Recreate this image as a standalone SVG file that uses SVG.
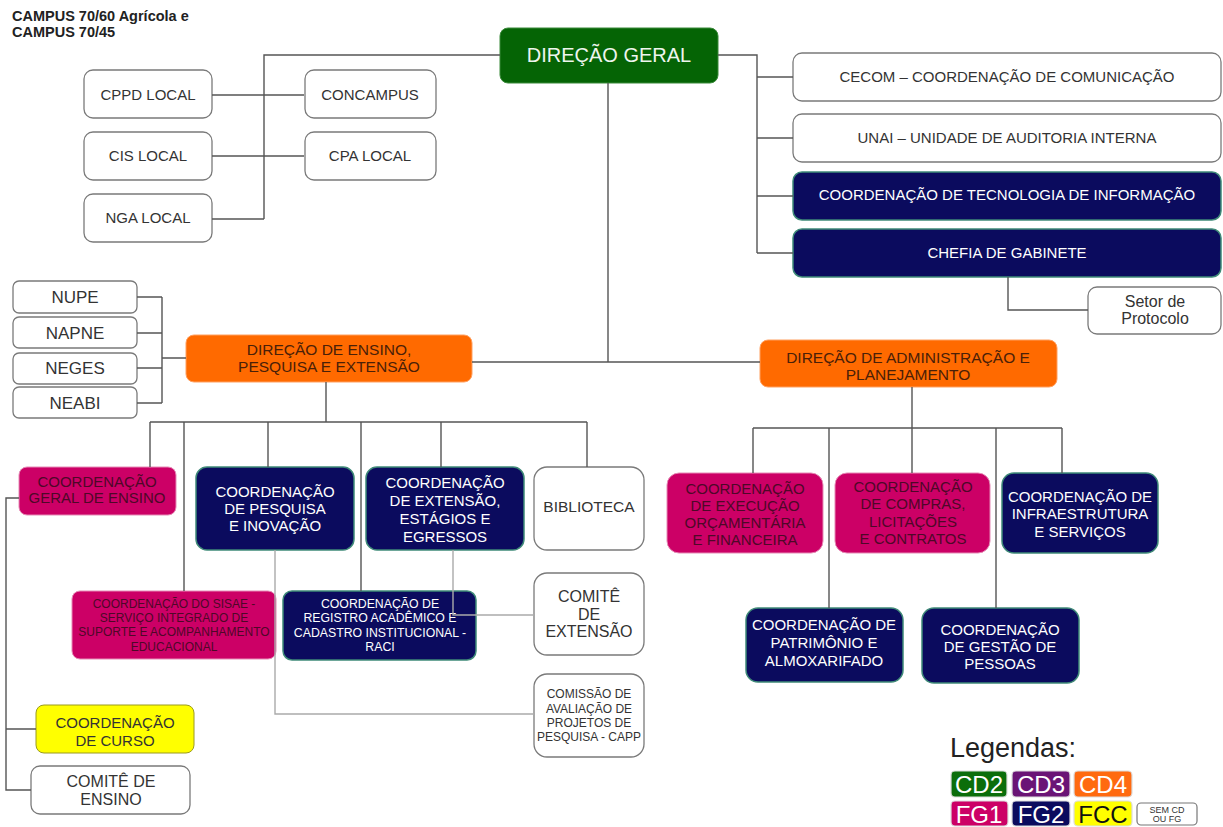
<svg xmlns="http://www.w3.org/2000/svg" width="1223" height="827" viewBox="0 0 1223 827">
<style>
text{font-family:"Liberation Sans",Arial,sans-serif;text-anchor:middle}
.w{fill:#fff;stroke:#7a7a7a;stroke-width:1.3}
.nv{fill:#0b0b5e;stroke:#3f8a78;stroke-width:1.5}
.mg{fill:#cc0066;stroke:#e58ab5;stroke-width:1}
.or{fill:#ff6a00;stroke:#ffa060;stroke-width:1}
.gr{fill:#056405;stroke:#3a8a3a;stroke-width:1}
.ye{fill:#ffff00;stroke:#9a9a20;stroke-width:1}
.tw{fill:#fff;font-size:15px}
.td{fill:#333;font-size:15px}
.tm{fill:#4e0828;font-size:15px}
.to{fill:#4a2008;font-size:15.5px}
.c{fill:none;stroke:#555;stroke-width:1.4}
.cl{fill:none;stroke:#aaa;stroke-width:1.4}
.chip{stroke:#ddd;stroke-width:1.2}
.ct{fill:#fff;font-size:24px}
</style>

<text x="12" y="21" style="text-anchor:start;font-weight:bold;font-size:14.5px;fill:#222">CAMPUS 70/60 Agrícola e</text>
<text x="12" y="37" style="text-anchor:start;font-weight:bold;font-size:14.5px;fill:#222">CAMPUS 70/45</text>

<g id="dg"><rect class="gr" x="500" y="28" width="218" height="55" rx="8"/><text x="609" y="62" style="fill:#eef5ee;font-size:20px">DIREÇÃO GERAL</text></g>

<g id="cppd"><rect class="w" x="84" y="70" width="128" height="48" rx="9"/><text class="td" x="148" y="100">CPPD LOCAL</text></g>
<g id="cis"><rect class="w" x="84" y="132" width="128" height="48" rx="9"/><text class="td" x="148" y="161">CIS LOCAL</text></g>
<g id="nga"><rect class="w" x="84" y="194" width="128" height="48" rx="9"/><text class="td" x="148" y="223">NGA LOCAL</text></g>
<g id="concampus"><rect class="w" x="305" y="70" width="131" height="48" rx="9"/><text class="td" x="370" y="100">CONCAMPUS</text></g>
<g id="cpa"><rect class="w" x="305" y="132" width="131" height="48" rx="9"/><text class="td" x="370" y="161">CPA LOCAL</text></g>

<g id="cecom"><rect class="w" x="793" y="53" width="428" height="48" rx="9"/><text class="td" x="1007" y="82">CECOM – COORDENAÇÃO DE COMUNICAÇÃO</text></g>
<g id="unai"><rect class="w" x="793" y="114" width="428" height="48" rx="9"/><text class="td" x="1007" y="143">UNAI – UNIDADE DE AUDITORIA INTERNA</text></g>
<g id="cti"><rect class="nv" x="793" y="172" width="428" height="48" rx="9"/><text class="tw" x="1007" y="200">COORDENAÇÃO DE TECNOLOGIA DE INFORMAÇÃO</text></g>
<g id="chefia"><rect class="nv" x="793" y="229" width="428" height="48" rx="9"/><text class="tw" x="1007" y="258">CHEFIA DE GABINETE</text></g>
<g id="protocolo"><rect class="w" x="1088" y="287" width="133" height="47" rx="9"/><text class="td" x="1155" y="307" style="font-size:16px">Setor de</text><text class="td" x="1155" y="324" style="font-size:16px">Protocolo</text></g>

<g id="nupe"><rect class="w" x="13" y="281" width="124" height="32" rx="6"/><text class="td" x="75" y="303" style="font-size:17px">NUPE</text></g>
<g id="napne"><rect class="w" x="13" y="317" width="124" height="31" rx="6"/><text class="td" x="75" y="339" style="font-size:17px">NAPNE</text></g>
<g id="neges"><rect class="w" x="13" y="353" width="124" height="31" rx="6"/><text class="td" x="75" y="374" style="font-size:17px">NEGES</text></g>
<g id="neabi"><rect class="w" x="13" y="387" width="124" height="31" rx="6"/><text class="td" x="75" y="409" style="font-size:17px">NEABI</text></g>

<g id="depe"><rect class="or" x="186" y="335" width="286" height="47" rx="8"/><text class="to" x="329" y="355">DIREÇÃO DE ENSINO,</text><text class="to" x="329" y="372">PESQUISA E EXTENSÃO</text></g>
<g id="dap"><rect class="or" x="760" y="340" width="297" height="47" rx="8"/><text class="to" x="908" y="363">DIREÇÃO DE ADMINISTRAÇÃO E</text><text class="to" x="908" y="380">PLANEJAMENTO</text></g>

<g id="cge"><rect class="mg" x="19" y="467" width="157" height="48" rx="8"/><text class="tm" x="97" y="487">COORDENAÇÃO</text><text class="tm" x="97" y="503">GERAL DE ENSINO</text></g>
<g id="cpi"><rect class="nv" x="196" y="467" width="158" height="83" rx="11"/><text class="tw" x="275" y="497">COORDENAÇÃO</text><text class="tw" x="275" y="514">DE PESQUISA</text><text class="tw" x="275" y="531">E INOVAÇÃO</text></g>
<g id="ceee"><rect class="nv" x="366" y="467" width="158" height="83" rx="11"/><text class="tw" x="445" y="488">COORDENAÇÃO</text><text class="tw" x="445" y="506">DE EXTENSÃO,</text><text class="tw" x="445" y="524">ESTÁGIOS E</text><text class="tw" x="445" y="542">EGRESSOS</text></g>
<g id="biblioteca"><rect class="w" x="534" y="467" width="110" height="83" rx="13"/><text class="td" x="589" y="512" style="font-size:15.5px">BIBLIOTECA</text></g>
<g id="sisae"><rect class="mg" x="72" y="591" width="204" height="68" rx="8"/><text class="tm" x="174" y="608" style="font-size:12px">COORDENAÇÃO DO SISAE -</text><text class="tm" x="174" y="622" style="font-size:12px">SERVIÇO INTEGRADO DE</text><text class="tm" x="174" y="636" style="font-size:12px">SUPORTE E ACOMPANHAMENTO</text><text class="tm" x="174" y="651" style="font-size:12px">EDUCACIONAL</text></g>
<g id="raci"><rect class="nv" x="283" y="591" width="193" height="69" rx="9"/><text class="tw" x="380" y="608" style="font-size:12.3px">COORDENAÇÃO DE</text><text class="tw" x="380" y="622" style="font-size:12.3px">REGISTRO ACADÊMICO E</text><text class="tw" x="380" y="637" style="font-size:12.3px">CADASTRO INSTITUCIONAL -</text><text class="tw" x="380" y="651" style="font-size:12.3px">RACI</text></g>
<g id="comite-extensao"><rect class="w" x="534" y="573" width="110" height="82" rx="13"/><text class="td" x="589" y="602" style="font-size:16px">COMITÊ</text><text class="td" x="589" y="620" style="font-size:16px">DE</text><text class="td" x="589" y="637" style="font-size:16px">EXTENSÃO</text></g>
<g id="capp"><rect class="w" x="534" y="674" width="110" height="83" rx="13"/><text class="td" x="589" y="698" style="font-size:12px">COMISSÃO DE</text><text class="td" x="589" y="713" style="font-size:12px">AVALIAÇÃO DE</text><text class="td" x="589" y="727" style="font-size:12px">PROJETOS DE</text><text class="td" x="589" y="741" style="font-size:12px">PESQUISA - CAPP</text></g>
<g id="curso"><rect class="ye" x="36" y="705" width="158" height="48" rx="8"/><text class="td" x="115" y="728">COORDENAÇÃO</text><text class="td" x="115" y="746">DE CURSO</text></g>
<g id="comite-ensino"><rect class="w" x="31" y="766" width="159" height="48" rx="9"/><text class="td" x="111" y="787" style="font-size:16px">COMITÊ DE</text><text class="td" x="111" y="805" style="font-size:16px">ENSINO</text></g>

<g id="ceof"><rect class="mg" x="667" y="473" width="156" height="80" rx="12"/><text class="tm" x="745" y="494">COORDENAÇÃO</text><text class="tm" x="745" y="511">DE EXECUÇÃO</text><text class="tm" x="745" y="528">ORÇAMENTÁRIA</text><text class="tm" x="745" y="545">E FINANCEIRA</text></g>
<g id="cclc"><rect class="mg" x="835" y="473" width="155" height="80" rx="12"/><text class="tm" x="913" y="492">COORDENAÇÃO</text><text class="tm" x="913" y="509">DE COMPRAS,</text><text class="tm" x="913" y="527">LICITAÇÕES</text><text class="tm" x="913" y="544">E CONTRATOS</text></g>
<g id="infra"><rect class="nv" x="1002" y="473" width="156" height="80" rx="12"/><text class="tw" x="1080" y="502">COORDENAÇÃO DE</text><text class="tw" x="1080" y="519">INFRAESTRUTURA</text><text class="tw" x="1080" y="537">E SERVIÇOS</text></g>
<g id="patrimonio"><rect class="nv" x="746" y="608" width="157" height="74" rx="12"/><text class="tw" x="824" y="630">COORDENAÇÃO DE</text><text class="tw" x="824" y="648">PATRIMÔNIO E</text><text class="tw" x="824" y="666">ALMOXARIFADO</text></g>
<g id="cgp"><rect class="nv" x="922" y="608" width="157" height="75" rx="12"/><text class="tw" x="1000" y="635">COORDENAÇÃO</text><text class="tw" x="1000" y="652">DE GESTÃO DE</text><text class="tw" x="1000" y="669">PESSOAS</text></g>

<g id="connectors">
<path class="c" d="M500,55H264V219M212,219H264M212,95H304M212,156H304"/>
<path class="c" d="M718,55H757V253M757,77H793M757,138H793M757,196H793M757,253H793"/>
<path class="c" d="M1008,277V310H1088"/>
<path class="c" d="M608,83V362M472,362H760"/>
<path class="c" d="M137,297H162M137,333H162M137,368H162M137,403H162M162,297V403M162,358H186"/>
<path class="c" d="M326,382V422M150,422H587M150,422V467M184,422V591M268,422V467M361,422V591M441,422V467M587,422V467"/>
<path class="c" d="M19,498H6V790H31M6,729H36"/>
<path class="cl" d="M275,550V714H534M453,550V615H534"/>
<path class="c" d="M912,387V428M753,428H1062M753,428V473M829,428V608M912,428V473M996,428V608M1062,428V473"/>
</g>

<g id="legend">
<text x="950" y="757" style="text-anchor:start;font-size:27px;fill:#222">Legendas:</text>
<rect class="chip" x="951" y="771" width="56" height="26" rx="4" fill="#0b6e0b"/><text class="ct" x="979" y="793">CD2</text>
<rect class="chip" x="1012" y="771" width="58" height="26" rx="4" fill="#6a1476"/><text class="ct" x="1041" y="793">CD3</text>
<rect class="chip" x="1074" y="771" width="58" height="26" rx="4" fill="#ff6a10"/><text class="ct" x="1103" y="793">CD4</text>
<rect class="chip" x="951" y="801" width="57" height="25" rx="4" fill="#cc0066"/><text class="ct" x="979" y="823">FG1</text>
<rect class="chip" x="1012" y="801" width="58" height="25" rx="4" fill="#0b0b5e"/><text class="ct" x="1041" y="823">FG2</text>
<rect class="chip" x="1074" y="801" width="58" height="25" rx="4" fill="#ffff00" stroke="#bbb"/><text class="ct" x="1103" y="823" style="fill:#111">FCC</text>
<rect x="1137" y="803" width="60" height="22" rx="4" fill="#fff" stroke="#777" stroke-width="1.2"/><text x="1167" y="813" style="font-size:9px;fill:#333">SEM CD</text><text x="1167" y="822" style="font-size:9px;fill:#333">OU FG</text>
</g>
</svg>
